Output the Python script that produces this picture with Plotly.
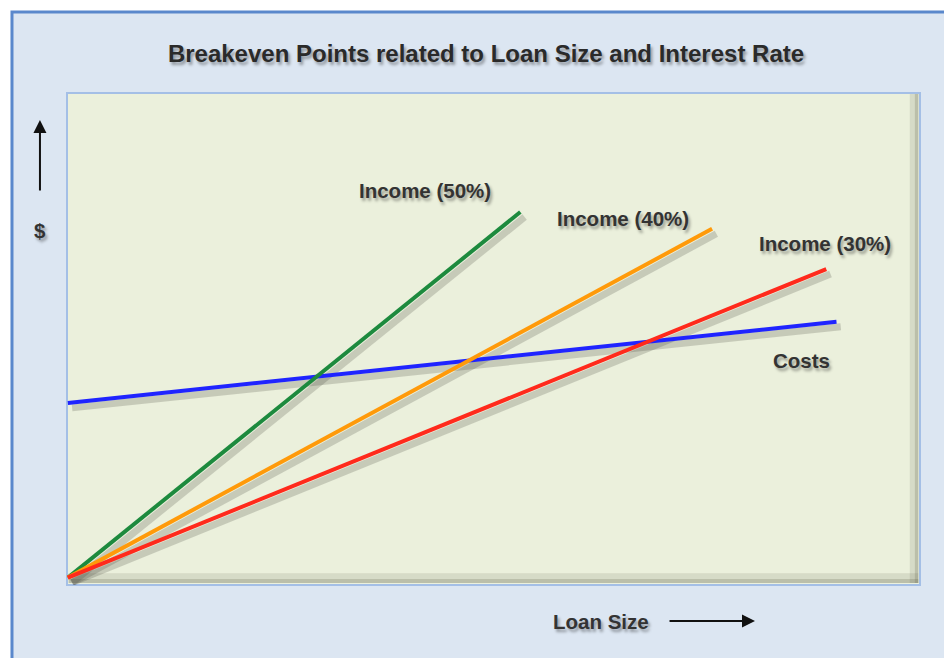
import plotly.graph_objects as go

# values (loan size on x, dollars on y, arbitrary units)
loan_costs = [0, 9.02]
costs = [3.55, 5.20]

loan_50 = [0, 5.31]
income_50 = [0, 7.43]

loan_40 = [0, 7.56]
income_40 = [0, 7.09]

loan_30 = [0, 8.90]
income_30 = [0, 6.27]

series = [
    ("Costs", loan_costs, costs, "#1f24ff"),
    ("Income (50%)", loan_50, income_50, "#1d8a3e"),
    ("Income (40%)", loan_40, income_40, "#ff9a0a"),
    ("Income (30%)", loan_30, income_30, "#ff2a1c"),
]

fig = go.Figure()

# soft drop shadows first, then the coloured lines on top
for name, xs, ys, color in series:
    fig.add_trace(go.Scatter(
        x=[v + 0.05 for v in xs], y=[v - 0.1 for v in ys],
        mode="lines", line=dict(color="rgba(70,70,60,0.22)", width=7),
        hoverinfo="skip", showlegend=False))
for name, xs, ys, color in series:
    fig.add_trace(go.Scatter(
        x=xs, y=ys, mode="lines", name=name,
        line=dict(color=color, width=4), showlegend=False))

font_name = "Liberation Sans, Arial, sans-serif"
shadow = "2px 3px 3px rgba(0,0,0,0.35)"

labels = [
    ("Income (50%)", 0.4197, 0.8028),
    ("Income (40%)", 0.6518, 0.7459),
    ("Income (30%)", 0.8886, 0.6931),
    ("Costs", 0.8605, 0.4553),
    ("$", -0.0317, 0.7215),
    ("Loan Size", 0.6260, -0.0732),
]
annotations = []
for text, x, y in labels:
    annotations.append(dict(
        text="<b>" + text + "</b>", x=x, y=y, xref="paper", yref="paper",
        showarrow=False, xanchor="center", yanchor="middle",
        font=dict(family=font_name, size=20.5, color="#333333", shadow=shadow)))

# axis arrows
annotations.append(dict(
    text="", x=-0.0317, y=0.9451, xref="paper", yref="paper",
    showarrow=True, ax=0, ay=72, arrowhead=2, arrowsize=1.3, arrowwidth=2,
    arrowcolor="#111111"))
annotations.append(dict(
    text="", x=0.8066, y=-0.0732, xref="paper", yref="paper",
    showarrow=True, ax=-87, ay=0, arrowhead=2, arrowsize=1.3, arrowwidth=2,
    arrowcolor="#111111"))

shapes = [
    # outer panel
    dict(type="rect", xref="paper", yref="paper", layer="below",
         x0=-0.0645, x1=1.2, y0=-0.4, y1=1.1646,
         fillcolor="#dce6f2", line=dict(color="#5a88cc", width=3)),
    # plot area
    dict(type="rect", xref="paper", yref="paper", layer="below",
         x0=0, x1=1, y0=0, y1=1,
         fillcolor="#ebf0dc", line=dict(color="#a4bfe6", width=2)),
    # inner shadow along right and bottom edges
    dict(type="rect", xref="paper", yref="paper", layer="below",
         x0=0.988, x1=0.998, y0=0.004, y1=0.998,
         fillcolor="rgba(90,90,70,0.14)", line=dict(width=0)),
    dict(type="rect", xref="paper", yref="paper", layer="below",
         x0=0.994, x1=0.998, y0=0.004, y1=0.998,
         fillcolor="rgba(90,90,70,0.22)", line=dict(width=0)),
    dict(type="rect", xref="paper", yref="paper", layer="below",
         x0=0.002, x1=0.998, y0=0.004, y1=0.024,
         fillcolor="rgba(90,90,70,0.14)", line=dict(width=0)),
    dict(type="rect", xref="paper", yref="paper", layer="below",
         x0=0.002, x1=0.998, y0=0.004, y1=0.012,
         fillcolor="rgba(90,90,70,0.22)", line=dict(width=0)),
]

fig.update_layout(
    width=944, height=658,
    margin=dict(l=67, r=24, t=93, b=73),
    paper_bgcolor="white", plot_bgcolor="rgba(0,0,0,0)",
    title=dict(text="<b>Breakeven Points related to Loan Size and Interest Rate</b>",
               x=0.5148, xanchor="center", y=0.919, yanchor="middle",
               font=dict(family=font_name, size=24, color="#2a2a2a", shadow=shadow)),
    xaxis=dict(range=[-0.01, 10.0], showgrid=False, zeroline=False,
               showticklabels=False, showline=False, fixedrange=True),
    yaxis=dict(range=[-0.15, 9.85], showgrid=False, zeroline=False,
               showticklabels=False, showline=False, fixedrange=True),
    annotations=annotations,
    shapes=shapes,
    hovermode=False,
)

# page has a default 8px body margin; drop it so the figure sits at 0,0
fig.write_html("out.html", config={"displayModeBar": False},
               post_script="document.body.style.margin='0px';")
